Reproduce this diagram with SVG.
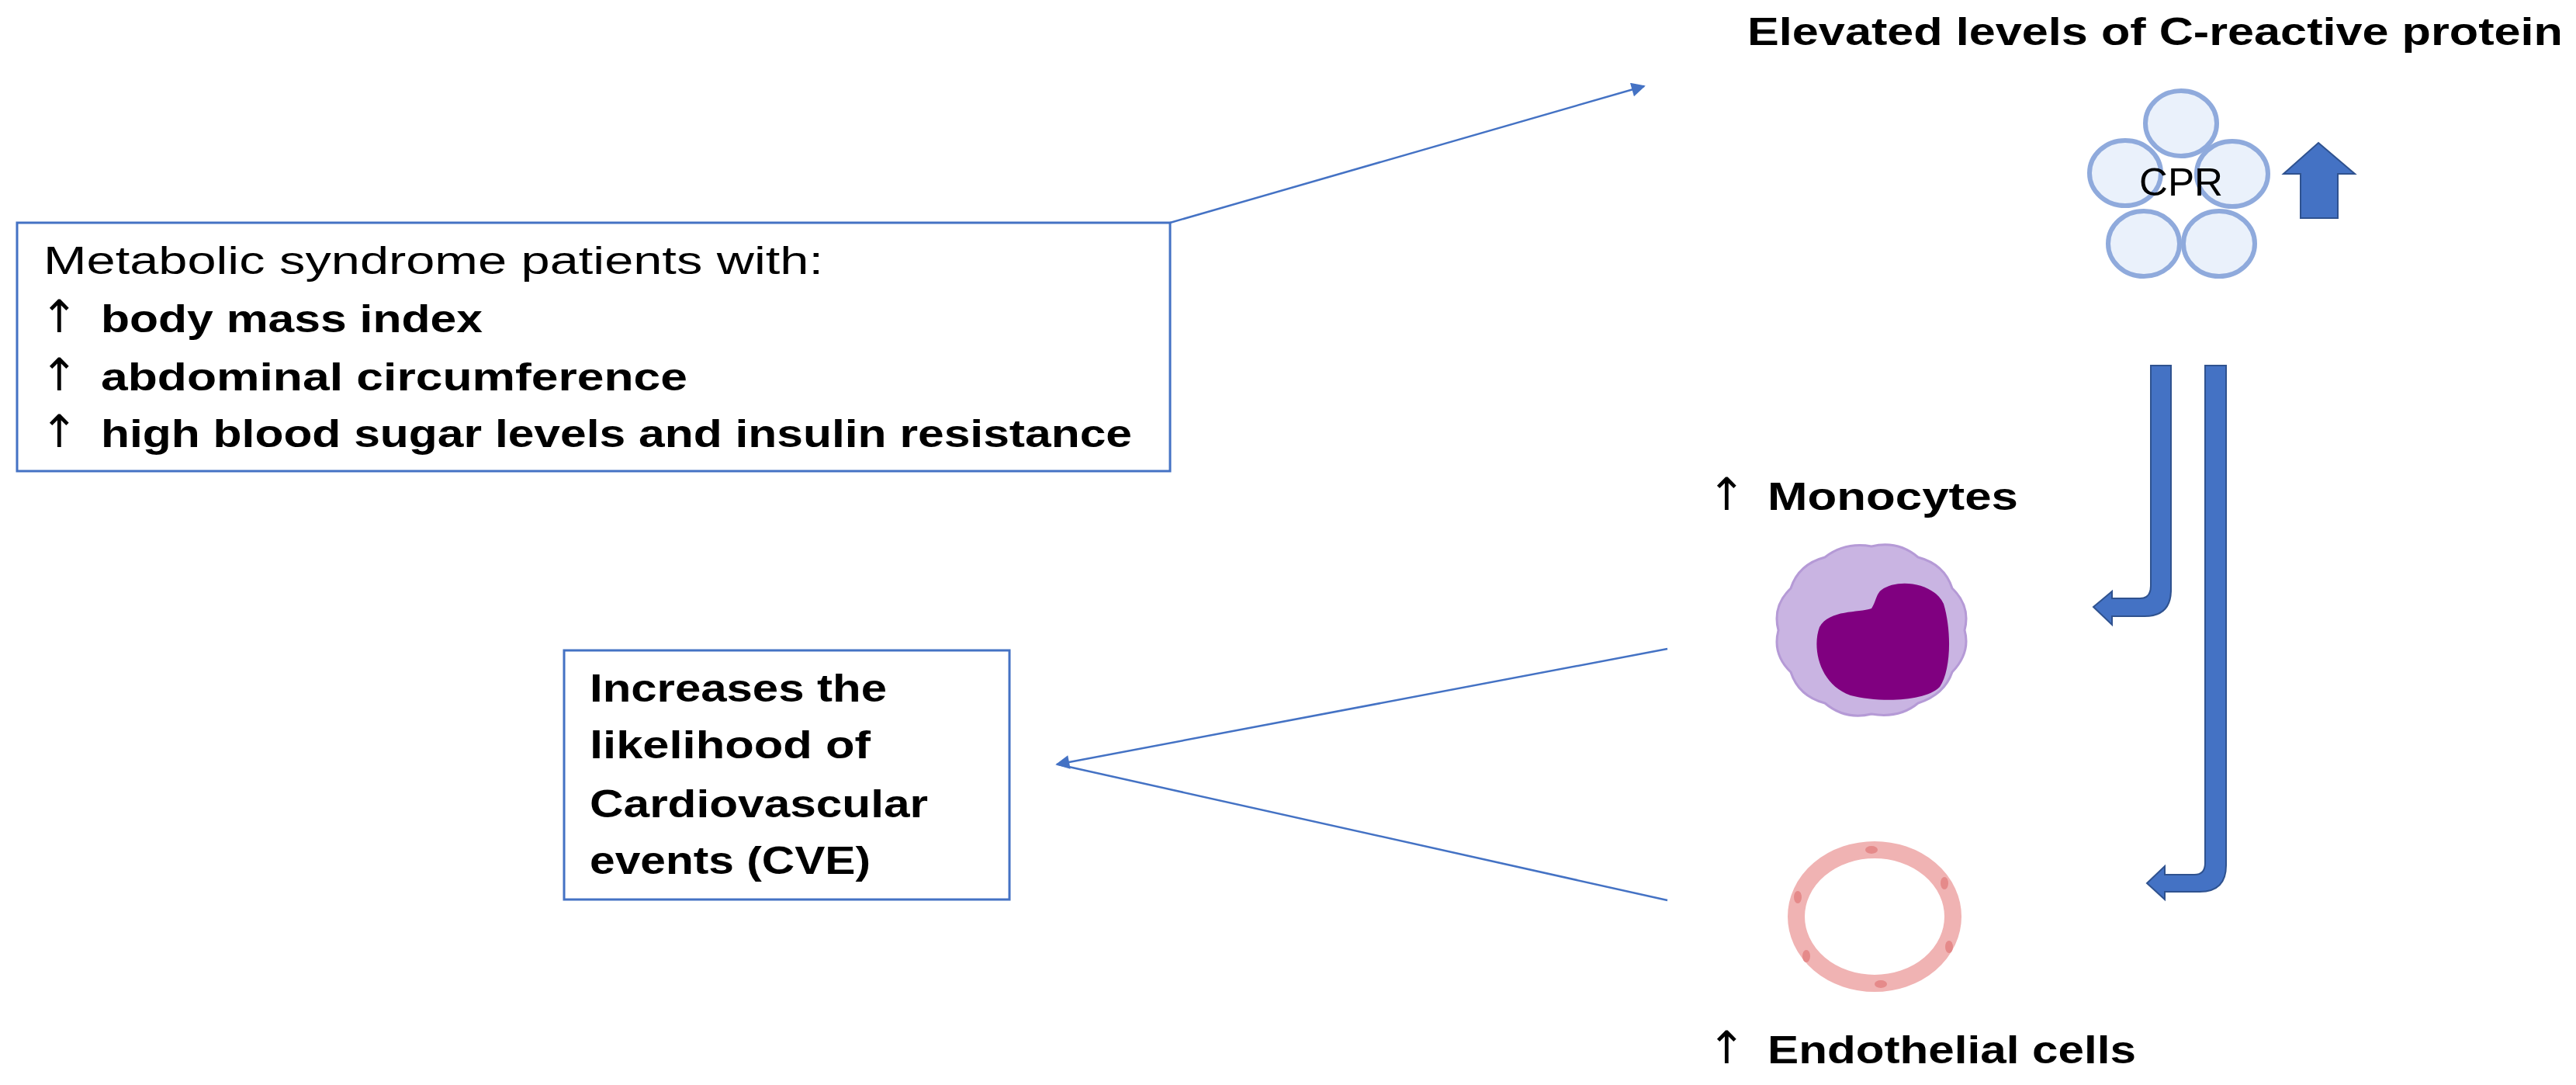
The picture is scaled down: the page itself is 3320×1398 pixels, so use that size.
<svg xmlns="http://www.w3.org/2000/svg" width="3320" height="1398" viewBox="0 0 3320 1398">
<style>
.t{font-family:"Liberation Sans",Arial,sans-serif;font-size:50px;fill:#000}
.b{font-weight:bold}
.ar{font-family:"DejaVu Sans",sans-serif;font-size:58px;font-weight:normal}
.box{fill:#fff;stroke:#4472C4;stroke-width:3}
.ln{stroke:#4472C4;stroke-width:2.5;fill:none}
.bl{fill:#4472C4;stroke:#2F528F;stroke-width:2}
.c{fill:#EAF1FB;stroke:#8FAADC;stroke-width:6}
</style>
<defs>
<marker id="ah" viewBox="0 0 10 10" refX="9" refY="5" markerWidth="22" markerHeight="18" orient="auto" markerUnits="userSpaceOnUse">
<path d="M0,0 L10,5 L0,10 Z" fill="#4472C4"/>
</marker>
</defs>
<rect width="3320" height="1398" fill="#fff"/>
<g id="connectors">
<line class="ln" x1="1508" y1="287" x2="2119" y2="111" marker-end="url(#ah)"/>
<line class="ln" x1="2149" y1="836" x2="1362" y2="985" marker-end="url(#ah)"/>
<line class="ln" x1="2149" y1="1160" x2="1364" y2="985"/>
<path class="bl" d="M2772,471 H2798 V760 Q2798,794 2764,794 H2722 V805 L2698,782 L2722,762 V771 H2758 Q2772,771 2772,755 Z"/>
<path class="bl" d="M2842,471 H2869 V1115 Q2869,1149 2835,1149 H2790 V1159 L2767,1138 L2790,1116 V1127 H2828 Q2842,1127 2842,1112 Z"/>
</g>
<g id="metabolic">
<rect class="box" x="22" y="287" width="1486" height="320"/>
<text class="t" x="56" y="353" textLength="1005" lengthAdjust="spacingAndGlyphs">Metabolic syndrome patients with:</text>
<text class="t b" x="52" y="428"><tspan class="ar">↑</tspan><tspan x="130" textLength="492" lengthAdjust="spacingAndGlyphs">body mass index</tspan></text>
<text class="t b" x="52" y="503"><tspan class="ar">↑</tspan><tspan x="130" textLength="756" lengthAdjust="spacingAndGlyphs">abdominal circumference</tspan></text>
<text class="t b" x="52" y="576"><tspan class="ar">↑</tspan><tspan x="130" textLength="1329" lengthAdjust="spacingAndGlyphs">high blood sugar levels and insulin resistance</tspan></text>
</g>
<g id="cve">
<rect class="box" x="727" y="838" width="574" height="321"/>
<text class="t b" x="760" y="904" textLength="383" lengthAdjust="spacingAndGlyphs">Increases the</text>
<text class="t b" x="760" y="977" textLength="362" lengthAdjust="spacingAndGlyphs">likelihood of</text>
<text class="t b" x="760" y="1053" textLength="436" lengthAdjust="spacingAndGlyphs">Cardiovascular</text>
<text class="t b" x="760" y="1126" textLength="362" lengthAdjust="spacingAndGlyphs">events (CVE)</text>
</g>
<g id="crp">
<text class="t b" x="2252" y="58" textLength="1051" lengthAdjust="spacingAndGlyphs">Elevated levels of C-reactive protein</text>
<ellipse class="c" cx="2811" cy="159" rx="46" ry="42"/>
<ellipse class="c" cx="2739" cy="223" rx="46" ry="42"/>
<ellipse class="c" cx="2877" cy="224" rx="46" ry="42"/>
<ellipse class="c" cx="2763" cy="314" rx="46" ry="42"/>
<ellipse class="c" cx="2860" cy="314" rx="46" ry="42"/>
<text class="t" x="2757" y="252" textLength="108" lengthAdjust="spacingAndGlyphs" font-size="46">CPR</text>
<path class="bl" d="M2988,184 L3035,224 H3013 V281 H2965 V224 H2943 Z"/>
</g>
<g id="monocytes">
<text class="t b" x="2201" y="657"><tspan class="ar">↑</tspan><tspan x="2278" textLength="323" lengthAdjust="spacingAndGlyphs">Monocytes</tspan></text>
<path d="M2532,812 Q2540,841 2516,866 Q2506,895 2472,906 Q2448,926 2412,920 Q2378,928 2352,906 Q2318,897 2308,866 Q2284,843 2292,812 Q2284,781 2308,758 Q2318,727 2352,718 Q2378,698 2412,704 Q2446,696 2472,718 Q2506,727 2516,758 Q2540,781 2532,812 Z" fill="#C9B4E2" stroke="#B59AD6" stroke-width="3"/>
<path d="M2425,760 C2445,745 2492,750 2505,778 C2516,815 2514,865 2500,885 C2480,905 2420,905 2385,896 C2345,882 2335,835 2345,808 C2358,785 2395,790 2412,784 C2418,775 2418,765 2425,760 Z" fill="#800080"/>
</g>
<g id="endothelial">
<text class="t b" x="2201" y="1370"><tspan class="ar">↑</tspan><tspan x="2278" textLength="475" lengthAdjust="spacingAndGlyphs">Endothelial cells</tspan></text>
<ellipse cx="2416" cy="1181" rx="101" ry="86" fill="none" stroke="#F0B3B3" stroke-width="22"/>
<g fill="#E58A8A">
<ellipse cx="2412" cy="1095" rx="8" ry="5"/>
<ellipse cx="2506" cy="1138" rx="5" ry="8"/>
<ellipse cx="2317" cy="1156" rx="5" ry="8"/>
<ellipse cx="2512" cy="1220" rx="5" ry="8"/>
<ellipse cx="2328" cy="1232" rx="5" ry="8"/>
<ellipse cx="2424" cy="1268" rx="8" ry="5"/>
</g>
</g>
</svg>
